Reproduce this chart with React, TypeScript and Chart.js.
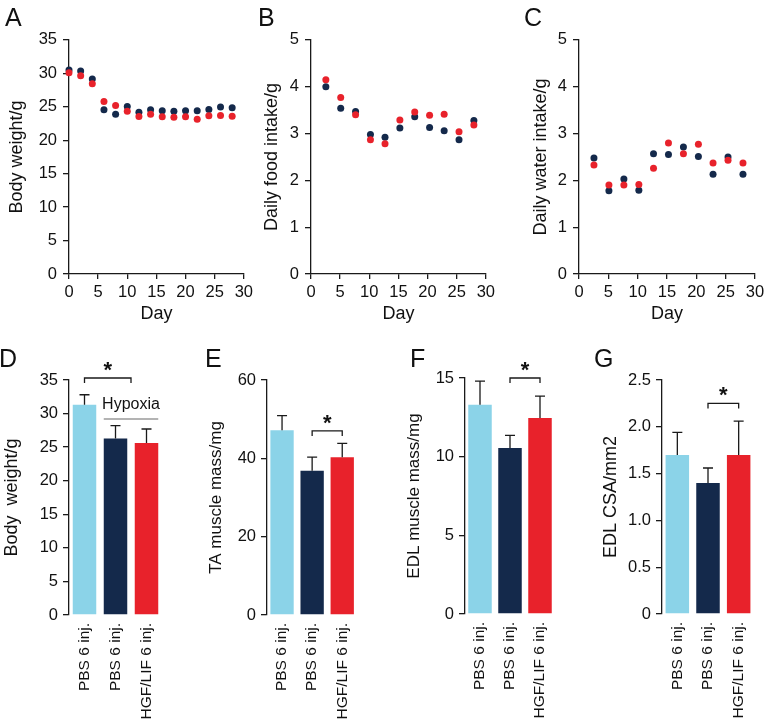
import React, { useEffect, useRef } from 'react';
import { Chart, registerables } from 'chart.js';
Chart.register(...registerables);

const FONT = 'Arial, "Liberation Sans", Helvetica, sans-serif';
Chart.defaults.font.family = FONT;

const NAVY = '#14294b';
const RED = '#e8222b';
const LIGHT = '#8bd3e8';
const AX = '#1a1a1a';
const TXT = '#111111';

// ---- Panel A: body weight over time (days)
const daysA = [0, 2, 4, 6, 8, 10, 12, 14, 16, 18, 20, 22, 24, 26, 28];
const bodyWeightPBS = [30.5, 30.35, 29.15, 24.55, 23.9, 25.05, 24.2, 24.55, 24.4, 24.35, 24.4, 24.4, 24.6, 24.95, 24.85];
const bodyWeightHGF = [30.1, 29.65, 28.45, 25.8, 25.2, 24.35, 23.55, 23.9, 23.5, 23.45, 23.5, 23.15, 23.65, 23.7, 23.6];

// ---- Panels B, C: daily intake
const daysBC = [2.55, 5.1, 7.65, 10.2, 12.7, 15.25, 17.8, 20.35, 22.85, 25.4, 27.95];
const foodPBS = [4.0, 3.54, 3.47, 2.98, 2.92, 3.12, 3.36, 3.13, 3.06, 2.87, 3.28];
const foodHGF = [4.15, 3.77, 3.4, 2.87, 2.78, 3.29, 3.46, 3.39, 3.41, 3.04, 3.18];
const waterPBS = [2.48, 1.78, 2.03, 1.79, 2.57, 2.55, 2.71, 2.51, 2.13, 2.5, 2.13];
const waterHGF = [2.33, 1.9, 1.9, 1.91, 2.26, 2.8, 2.57, 2.77, 2.37, 2.43, 2.37];

// ---- Panels D-G: bar charts (mean + SD)
const groups = ['PBS 6 inj.', 'PBS 6 inj.', 'HGF/LIF 6 inj.'];
const groupColors = [LIGHT, NAVY, RED];
const bodyWeightMean = [31.3, 26.3, 25.6];
const bodyWeightSD = [1.5, 1.9, 2.1];
const taMean = [47.2, 36.8, 40.3];
const taSD = [3.7, 3.5, 3.5];
const edlMean = [13.3, 10.55, 12.45];
const edlSD = [1.5, 0.8, 1.4];
const csaMean = [1.7, 1.4, 1.7];
const csaSD = [0.24, 0.16, 0.36];
const hypoxiaLabel = 'Hypoxia';

type Box = { cl: number; ct: number; cw: number; ch: number; l: number; t: number; r: number; b: number };

const tickFont = { size: 16.5 };

function scatterConfig(box: Box, days: number[], pbs: number[], hgf: number[], yMax: number, yStep: number, yTitle: string): any {
  const yWidth = box.l - box.cl;
  const xHeight = box.ct + box.ch - box.b;
  return {
    type: 'scatter',
    data: {
      datasets: [
        { data: days.map((d, i) => ({ x: d, y: hgf[i] })), backgroundColor: RED, borderWidth: 0, pointRadius: 3.5, clip: false },
        { data: days.map((d, i) => ({ x: d, y: pbs[i] })), backgroundColor: NAVY, borderWidth: 0, pointRadius: 3.5, clip: false },
      ],
    },
    options: {
      responsive: false,
      animation: false,
      events: [],
      layout: { padding: { top: box.t - box.ct, right: box.cl + box.cw - box.r, left: 0, bottom: 0 } },
      plugins: { legend: { display: false }, tooltip: { enabled: false } },
      scales: {
        x: {
          type: 'linear', min: 0, max: 30,
          ticks: { stepSize: 5, font: tickFont, color: TXT, padding: 4 },
          grid: { drawOnChartArea: false, drawTicks: true, tickLength: 5, color: AX, lineWidth: 1.3 },
          border: { display: true, color: AX, width: 1.3 },
          title: { display: true, text: 'Day', font: { size: 18 }, color: TXT, padding: 0 },
          afterFit: (s: any) => { s.height = xHeight; },
        },
        y: {
          type: 'linear', min: 0, max: yMax,
          ticks: { stepSize: yStep, font: tickFont, color: TXT, padding: 6 },
          grid: { drawOnChartArea: false, drawTicks: true, tickLength: 6, color: AX, lineWidth: 1.3 },
          border: { display: true, color: AX, width: 1.3 },
          title: { display: true, text: yTitle, font: { size: 18 }, color: TXT, padding: 0 },
          afterFit: (s: any) => { s.width = yWidth; },
        },
      },
    },
  };
}

type Ann = { from: number; to: number; y: number; hypoxiaY?: number };

function barDecor(means: number[], sds: number[], ann: Ann) {
  return {
    id: 'barDecor',
    afterDatasetsDraw(chart: any) {
      const ctx = chart.ctx;
      const ys = chart.scales.y;
      const xs = chart.scales.x;
      const bars = chart.getDatasetMeta(0).data;
      ctx.save();
      ctx.strokeStyle = AX;
      ctx.lineWidth = 1.3;
      bars.forEach((bar: any, i: number) => {
        const x = bar.x;
        const y0 = ys.getPixelForValue(means[i]);
        const y1 = ys.getPixelForValue(means[i] + sds[i]);
        ctx.beginPath();
        ctx.moveTo(x, y0);
        ctx.lineTo(x, y1);
        ctx.moveTo(x - 5, y1);
        ctx.lineTo(x + 5, y1);
        ctx.stroke();
      });
      const bx1 = xs.getPixelForValue(ann.from);
      const bx2 = xs.getPixelForValue(ann.to);
      const by = ys.getPixelForValue(ann.y);
      ctx.beginPath();
      ctx.moveTo(bx1, by + 5);
      ctx.lineTo(bx1, by);
      ctx.lineTo(bx2, by);
      ctx.lineTo(bx2, by + 5);
      ctx.stroke();
      ctx.fillStyle = TXT;
      ctx.font = `bold 22px ${FONT}`;
      ctx.textAlign = 'center';
      ctx.textBaseline = 'alphabetic';
      ctx.fillText('*', (bx1 + bx2) / 2, by - 1);
      if (ann.hypoxiaY != null) {
        const hy = ys.getPixelForValue(ann.hypoxiaY);
        const hx1 = bars[1].x - bars[1].width / 2;
        const hx2 = bars[2].x + bars[2].width / 2;
        ctx.strokeStyle = '#9a9a9a';
        ctx.lineWidth = 1.5;
        ctx.beginPath();
        ctx.moveTo(hx1, hy);
        ctx.lineTo(hx2, hy);
        ctx.stroke();
        ctx.font = `16px ${FONT}`;
        ctx.fillText(hypoxiaLabel, (hx1 + hx2) / 2, hy - 9.5);
      }
      ctx.restore();
    },
  };
}

function barConfig(box: Box, means: number[], sds: number[], yMax: number, yStep: number, yTitle: string, titleSize: number, ann: Ann, fmt?: (v: number) => string): any {
  const yWidth = box.l - box.cl;
  const xHeight = box.ct + box.ch - box.b;
  const cat = (box.r - box.l) / 3;
  return {
    type: 'bar',
    data: {
      labels: groups,
      datasets: [{ data: means, backgroundColor: groupColors, borderWidth: 0, barPercentage: 1, categoryPercentage: 23.5 / cat }],
    },
    options: {
      responsive: false,
      animation: false,
      events: [],
      layout: { padding: { top: box.t - box.ct, right: box.cl + box.cw - box.r, left: 0, bottom: 0 } },
      plugins: { legend: { display: false }, tooltip: { enabled: false } },
      scales: {
        x: {
          type: 'category',
          ticks: { font: { size: 15.5 }, color: TXT, padding: 8, autoSkip: false, maxRotation: 90, minRotation: 90 },
          grid: { display: false, drawTicks: false },
          border: { display: false },
          afterFit: (s: any) => { s.height = xHeight; },
        },
        y: {
          type: 'linear', min: 0, max: yMax,
          ticks: { stepSize: yStep, font: tickFont, color: TXT, padding: 5, callback: fmt ? (v: any) => fmt(Number(v)) : undefined },
          grid: { drawOnChartArea: false, drawTicks: true, tickLength: 6, color: AX, lineWidth: 1.3 },
          border: { display: true, color: AX, width: 1.3 },
          title: { display: true, text: yTitle, font: { size: titleSize }, color: TXT, padding: 0 },
          afterFit: (s: any) => { s.width = yWidth; },
        },
      },
    },
    plugins: [barDecor(means, sds, ann)],
  };
}

function ChartCanvas({ box, make }: { box: Box; make: () => any }) {
  const ref = useRef<HTMLCanvasElement>(null);
  useEffect(() => {
    const chart = new Chart(ref.current as HTMLCanvasElement, make());
    return () => chart.destroy();
  }, []);
  return (
    <canvas
      ref={ref}
      width={box.cw}
      height={box.ch}
      style={{ position: 'absolute', left: box.cl, top: box.ct, width: box.cw, height: box.ch }}
    />
  );
}

function Letter({ text, x, baseline }: { text: string; x: number; baseline: number }) {
  return (
    <div style={{ position: 'absolute', left: x, top: baseline - 21.2, fontSize: 25, lineHeight: '25px', fontFamily: FONT, color: TXT }}>
      {text}
    </div>
  );
}

const boxA: Box = { cl: 6, ct: 24, cw: 251, ch: 301, l: 69, t: 36, r: 245, b: 274 };
const boxB: Box = { cl: 261, ct: 24, cw: 238, ch: 301, l: 311, t: 36, r: 487, b: 274 };
const boxC: Box = { cl: 530, ct: 24, cw: 241, ch: 301, l: 579, t: 36, r: 755, b: 274 };
const boxD: Box = { cl: 1, ct: 338, cw: 180, ch: 388, l: 69, t: 380, r: 162, b: 615 };
const boxE: Box = { cl: 206, ct: 338, cw: 165, ch: 388, l: 267, t: 380, r: 358, b: 615 };
const boxF: Box = { cl: 404, ct: 338, cw: 165, ch: 388, l: 465, t: 378, r: 555, b: 614 };
const boxG: Box = { cl: 600, ct: 338, cw: 171, ch: 388, l: 662, t: 380, r: 754, b: 614 };

export default function App() {
  return (
    <div style={{ position: 'absolute', left: 0, top: 0, width: 771, height: 726, background: '#fff', overflow: 'hidden' }}>
      <ChartCanvas box={boxA} make={() => scatterConfig(boxA, daysA, bodyWeightPBS, bodyWeightHGF, 35, 5, 'Body weight/g')} />
      <ChartCanvas box={boxB} make={() => scatterConfig(boxB, daysBC, foodPBS, foodHGF, 5, 1, 'Daily food intake/g')} />
      <ChartCanvas box={boxC} make={() => scatterConfig(boxC, daysBC, waterPBS, waterHGF, 5, 1, 'Daily water intake/g')} />
      <ChartCanvas box={boxD} make={() => barConfig(boxD, bodyWeightMean, bodyWeightSD, 35, 5, 'Body  weight/g', 18, { from: 0, to: 1.5, y: 35.3, hypoxiaY: 29.2 })} />
      <ChartCanvas box={boxE} make={() => barConfig(boxE, taMean, taSD, 60, 20, 'TA muscle mass/mg', 17, { from: 1, to: 2, y: 47.0 })} />
      <ChartCanvas box={boxF} make={() => barConfig(boxF, edlMean, edlSD, 15, 5, 'EDL muscle mass/mg', 17, { from: 1, to: 2, y: 15.0 })} />
      <ChartCanvas box={boxG} make={() => barConfig(boxG, csaMean, csaSD, 2.5, 0.5, 'EDL CSA/mm2', 18, { from: 1, to: 2, y: 2.25 }, (v) => (v === 0 ? '0' : v.toFixed(1)))} />
      <Letter text="A" x={5} baseline={26} />
      <Letter text="B" x={258} baseline={26} />
      <Letter text="C" x={524} baseline={26} />
      <Letter text="D" x={-1} baseline={367} />
      <Letter text="E" x={205} baseline={367} />
      <Letter text="F" x={410} baseline={367} />
      <Letter text="G" x={594} baseline={367} />
    </div>
  );
}
